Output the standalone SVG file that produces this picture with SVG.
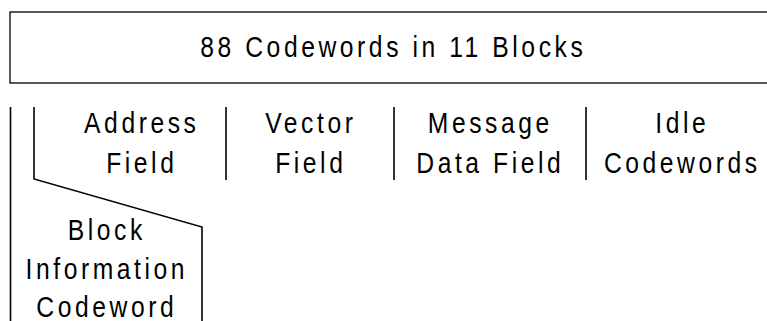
<svg xmlns="http://www.w3.org/2000/svg" width="767" height="321" viewBox="0 0 767 321">
  <style>
    .bg { fill: #ffffff; }
    .frame { fill: none; stroke: #000; stroke-width: 1.3; }
    .line { fill: none; stroke: #000; stroke-width: 1.6; }
    .label { font-family: "Liberation Sans", Arial, sans-serif; font-size: 29px; letter-spacing: 4.2px; fill: #000; text-anchor: middle; }
  </style>
  <rect class="bg" x="0" y="0" width="767" height="321"/>

  <!-- frame holding the whole block set -->
  <g id="blocks">
    <rect class="frame" x="10" y="12" width="780" height="71"/>
    <text class="label" transform="translate(393.3,57) scale(0.85,1)">88 Codewords in 11 Blocks</text>
  </g>

  <!-- field dividers -->
  <g id="connectors">
    <line class="line" x1="10.5" y1="107" x2="10.5" y2="321"/>
    <polyline class="line" points="34,107 34,179 202,227 202,321"/>
    <line class="line" x1="226" y1="107" x2="226" y2="180"/>
    <line class="line" x1="394" y1="107" x2="394" y2="180"/>
    <line class="line" x1="586" y1="107" x2="586" y2="180"/>
  </g>

  <g id="block-info">
    <text class="label" transform="translate(106.8,240) scale(0.85,1)">Block</text>
    <text class="label" transform="translate(106.8,279) scale(0.85,1)">Information</text>
    <text class="label" transform="translate(106.8,317) scale(0.85,1)">Codeword</text>
  </g>

  <g id="address-field">
    <text class="label" transform="translate(141.8,133) scale(0.85,1)">Address</text>
    <text class="label" transform="translate(141.8,173) scale(0.85,1)">Field</text>
  </g>

  <g id="vector-field">
    <text class="label" transform="translate(310.8,133) scale(0.85,1)">Vector</text>
    <text class="label" transform="translate(310.8,173) scale(0.85,1)">Field</text>
  </g>

  <g id="message-field">
    <text class="label" transform="translate(490.3,133) scale(0.85,1)">Message</text>
    <text class="label" transform="translate(490.3,173) scale(0.85,1)">Data Field</text>
  </g>

  <g id="idle-codewords">
    <text class="label" transform="translate(682.3,133) scale(0.85,1)">Idle</text>
    <text class="label" transform="translate(682.3,173) scale(0.85,1)">Codewords</text>
  </g>
</svg>
